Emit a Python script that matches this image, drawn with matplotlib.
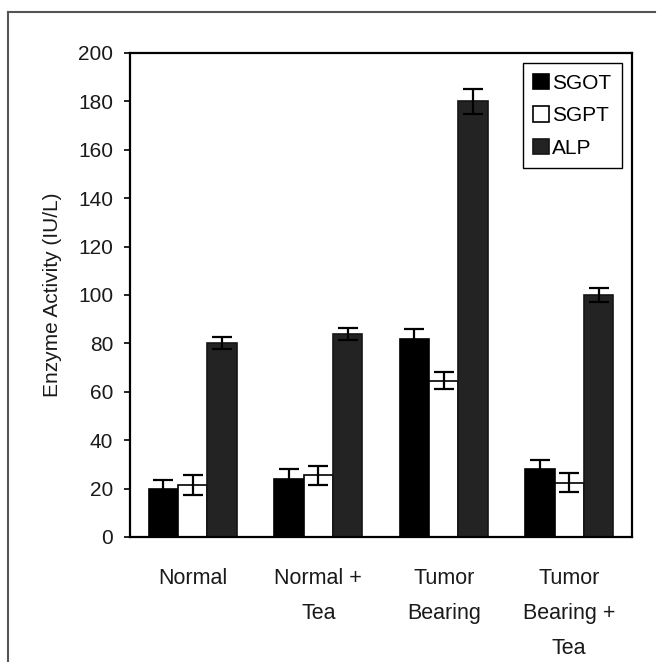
import matplotlib
matplotlib.use("Agg")
import matplotlib.pyplot as plt
from matplotlib.lines import Line2D
import numpy as np

plt.rcParams['font.family'] = ['Liberation Sans', 'DejaVu Sans']

# Data
categories = ["Normal", "Normal +\nTea", "Tumor\nBearing", "Tumor\nBearing +\nTea"]
series_names = ["SGOT", "SGPT", "ALP"]
sgot = [20, 24, 82, 28]
sgot_err = [3.5, 4, 4, 4]
sgpt = [21.5, 25.5, 64.5, 22.5]
sgpt_err = [4, 4, 3.5, 4]
alp = [80, 84, 180, 100]
alp_err = [2.5, 2.5, 5, 3]
y_ticks = [0, 20, 40, 60, 80, 100, 120, 140, 160, 180, 200]

fig = plt.figure(figsize=(6.61, 6.62), dpi=100)
ax = fig.add_axes([130 / 661, 1 - 537 / 662, 502 / 661, 484 / 662])

x = np.arange(len(categories))
w = 0.235
styles = [
    dict(color="black", edgecolor="black"),
    dict(color="white", edgecolor="black"),
    dict(color="#232323", edgecolor="#151515"),
]
values = [sgot, sgpt, alp]
errors = [sgot_err, sgpt_err, alp_err]
err_kw = dict(ecolor="black", elinewidth=1.6, capsize=7.5, capthick=1.6)
for i, (vals, errs, st) in enumerate(zip(values, errors, styles)):
    ax.bar(x + (i - 1) * w, vals, w, yerr=errs, label=series_names[i],
           linewidth=1.2, error_kw=err_kw, zorder=2, **st)

ax.set_xlim(-0.5, len(categories) - 0.5)
ax.set_ylim(0, 200)
ax.set_yticks(y_ticks)
ax.set_xticks(x)
ax.set_xticklabels(categories, linespacing=1.9, fontsize=15.5, color="#1a1a1a")
ax.tick_params(axis="x", length=0, pad=22)
ax.tick_params(axis="y", direction="out", length=4, width=1.2, pad=8,
               labelsize=15, labelcolor="#1a1a1a")
for s in ax.spines.values():
    s.set_linewidth(1.6)
    s.set_color("black")

ax.set_ylabel("Enzyme Activity (IU/L)", fontsize=15, color="#1a1a1a", labelpad=12)

leg = ax.legend(loc="upper right", fontsize=15, frameon=True, fancybox=False,
                edgecolor="black", framealpha=1, borderaxespad=0.5,
                handlelength=0.75, handleheight=0.75, handletextpad=0.15,
                borderpad=0.5, labelspacing=0.65)
leg.get_frame().set_linewidth(1.0)

# Outer frame lines (top and left)
fig.add_artist(Line2D([8 / 661, 655 / 661], [1 - 12 / 662, 1 - 12 / 662],
                      transform=fig.transFigure, color="#555555", lw=1.5))
fig.add_artist(Line2D([8 / 661, 8 / 661], [1 - 12 / 662, 0],
                      transform=fig.transFigure, color="#555555", lw=1.5))

fig.savefig("out.png", dpi=100)
